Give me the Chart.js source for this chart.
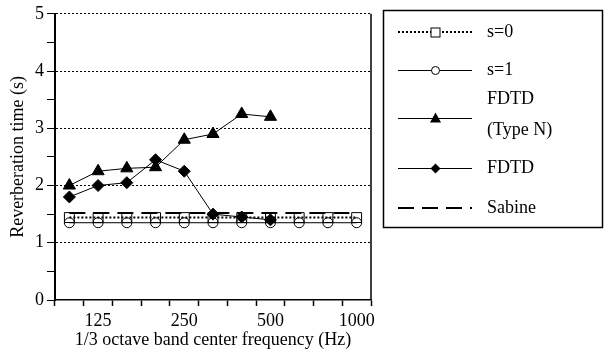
<!DOCTYPE html>
<html>
<head>
<meta charset="utf-8">
<script src="https://cdn.jsdelivr.net/npm/chart.js@4/dist/chart.umd.min.js"></script>
<style>
  html, body { margin: 0; padding: 0; background: #fff; }
  #wrap { width: 605px; height: 354px; position: relative; }
</style>
</head>
<body>
<div id="wrap"><canvas id="c"></canvas></div>
<script>
const bands = ['100', '125', '160', '200', '250', '315', '400', '500', '630', '800', '1000'];
const shownBands = ['125', '250', '500', '1000'];
const s0 = [1.44, 1.44, 1.44, 1.44, 1.44, 1.44, 1.44, 1.44, 1.44, 1.44, 1.44];
const s1 = [1.35, 1.35, 1.35, 1.35, 1.35, 1.35, 1.35, 1.35, 1.35, 1.35, 1.35];
const fdtdTypeN = [2.0, 2.25, 2.3, 2.32, 2.8, 2.9, 3.25, 3.2];
const fdtd = [1.8, 2.0, 2.05, 2.45, 2.25, 1.5, 1.45, 1.4];
const sabine = [1.52, 1.52, 1.52, 1.52, 1.52, 1.52, 1.52, 1.52, 1.52, 1.52, 1.52];
const yTicks = [0, 1, 2, 3, 4, 5];

const FONT = 'Liberation Serif, Times New Roman, serif';

// legend drawn inside a framed box to the right of the plot
const boxLegend = {
  id: 'boxLegend',
  afterDraw(chart) {
    const ctx = chart.ctx;
    // right frame of the plot
    const a = chart.chartArea;
    ctx.save();
    ctx.strokeStyle = '#000';
    ctx.lineWidth = 1.5;
    ctx.beginPath();
    ctx.moveTo(a.right, a.top);
    ctx.lineTo(a.right, a.bottom);
    ctx.stroke();

    ctx.lineWidth = 1.5;
    ctx.strokeRect(383.5, 10.5, 219, 217);

    const rows = [
      { y: 32, ds: 0, text: ['s=0'] },
      { y: 70, ds: 1, text: ['s=1'] },
      { y: 118, ds: 2, text: ['FDTD', '(Type N)'] },
      { y: 168, ds: 3, text: ['FDTD'] },
      { y: 208, ds: 4, text: ['Sabine'] }
    ];
    rows.forEach(r => {
      const d = chart.data.datasets[r.ds];
      const ly = d.borderWidth % 2 === 1 ? r.y + 0.5 : r.y;
      ctx.save();
      ctx.strokeStyle = '#000';
      ctx.lineWidth = d.borderWidth;
      ctx.setLineDash(d.borderDash || []);
      ctx.beginPath();
      ctx.moveTo(398, ly);
      ctx.lineTo(472, ly);
      ctx.stroke();
      ctx.restore();

      ctx.save();
      ctx.setLineDash([]);
      ctx.lineWidth = 1;
      ctx.strokeStyle = '#000';
      const cx = 435.5, cy = r.y + 0.5;
      if (d.pointStyle === 'rect') {
        ctx.fillStyle = '#fff';
        ctx.fillRect(cx - 4.5, cy - 4.5, 9, 9);
        ctx.strokeRect(cx - 4.5, cy - 4.5, 9, 9);
      } else if (d.pointStyle === 'circle') {
        ctx.fillStyle = '#fff';
        ctx.beginPath(); ctx.arc(cx, cy, 4, 0, Math.PI * 2); ctx.fill(); ctx.stroke();
      } else if (d.pointStyle === 'triangle') {
        ctx.fillStyle = '#000';
        ctx.beginPath(); ctx.moveTo(cx, cy - 6); ctx.lineTo(cx + 5.5, cy + 4); ctx.lineTo(cx - 5.5, cy + 4); ctx.closePath(); ctx.fill();
      } else if (d.pointStyle === 'rectRot') {
        ctx.fillStyle = '#000';
        ctx.beginPath(); ctx.moveTo(cx, cy - 5); ctx.lineTo(cx + 5, cy); ctx.lineTo(cx, cy + 5); ctx.lineTo(cx - 5, cy); ctx.closePath(); ctx.fill();
      }
      ctx.restore();

      ctx.fillStyle = '#000';
      ctx.font = '18px ' + FONT;
      ctx.textBaseline = 'middle';
      ctx.textAlign = 'left';
      if (r.text.length === 1) {
        ctx.fillText(r.text[0], 487, r.y);
      } else {
        ctx.fillText(r.text[0], 487, r.y - 19);
        ctx.fillText(r.text[1], 487, r.y + 12);
      }
    });
    ctx.restore();
  }
};

new Chart(document.getElementById('c'), {
  type: 'line',
  data: {
    labels: bands,
    datasets: [
      { label: 's=0', data: s0, borderColor: '#000', borderWidth: 2, borderDash: [2, 2],
        pointStyle: 'rect', pointRadius: 7, pointBorderWidth: 1, pointBackgroundColor: 'rgba(0,0,0,0)', pointBorderColor: '#000' },
      { label: 's=1', data: s1, borderColor: '#000', borderWidth: 1,
        pointStyle: 'circle', pointRadius: 5, pointBorderWidth: 1, pointBackgroundColor: 'rgba(0,0,0,0)', pointBorderColor: '#000' },
      { label: 'FDTD (Type N)', data: fdtdTypeN, borderColor: '#000', borderWidth: 1,
        pointStyle: 'triangle', pointRadius: 7, pointBorderWidth: 1, pointBackgroundColor: '#000', pointBorderColor: '#000' },
      { label: 'FDTD', data: fdtd, borderColor: '#000', borderWidth: 1,
        pointStyle: 'rectRot', pointRadius: 6, pointBorderWidth: 1, pointBackgroundColor: '#000', pointBorderColor: '#000' },
      { label: 'Sabine', data: sabine, borderColor: '#000', borderWidth: 2, borderDash: [16, 8],
        pointRadius: 0 }
    ]
  },
  options: {
    responsive: true,
    maintainAspectRatio: false,
    animation: false,
    layout: { padding: { top: 13, right: 234, bottom: 3, left: 0 } },
    plugins: {
      legend: { display: false },
      tooltip: { enabled: false }
    },
    elements: { line: { tension: 0, fill: false } },
    scales: {
      x: {
        offset: true,
        grid: { offset: true, drawOnChartArea: false, color: '#000', tickLength: 6, tickWidth: 1.5 },
        border: { color: '#000', width: 1.5 },
        ticks: {
          color: '#000', font: { family: FONT, size: 18 }, maxRotation: 0, autoSkip: false, padding: 4,
          callback: function (v, i) { const l = bands[i]; return shownBands.includes(l) ? l : ''; }
        },
        title: { display: true, text: '1/3 octave band center frequency (Hz)', color: '#000',
          font: { family: FONT, size: 18 }, padding: { top: 0, bottom: 0 } },
        afterFit(scale) { scale.height = 51; }
      },
      y: {
        min: 0, max: 5,
        ticks: {
          stepSize: 0.5, color: '#000', font: { family: FONT, size: 18 }, padding: 3,
          callback: function (v) { return yTicks.includes(v) ? String(v) : ''; }
        },
        grid: {
          color: ctx => (ctx.tick && Number.isInteger(ctx.tick.value) && ctx.tick.value > 0) ? '#000' : 'rgba(0,0,0,0)',
          tickColor: '#000', tickLength: 8, tickWidth: 1, tickBorderDash: [], lineWidth: 1
        },
        border: { color: '#000', width: 2, dash: [2, 2] },
        title: { display: true, text: 'Reverberation time (s)', color: '#000',
          font: { family: FONT, size: 18 }, padding: { top: 7, bottom: 0 } },
        afterFit(scale) { scale.width = 55; }
      }
    }
  },
  plugins: [boxLegend]
});
</script>
</body>
</html>
